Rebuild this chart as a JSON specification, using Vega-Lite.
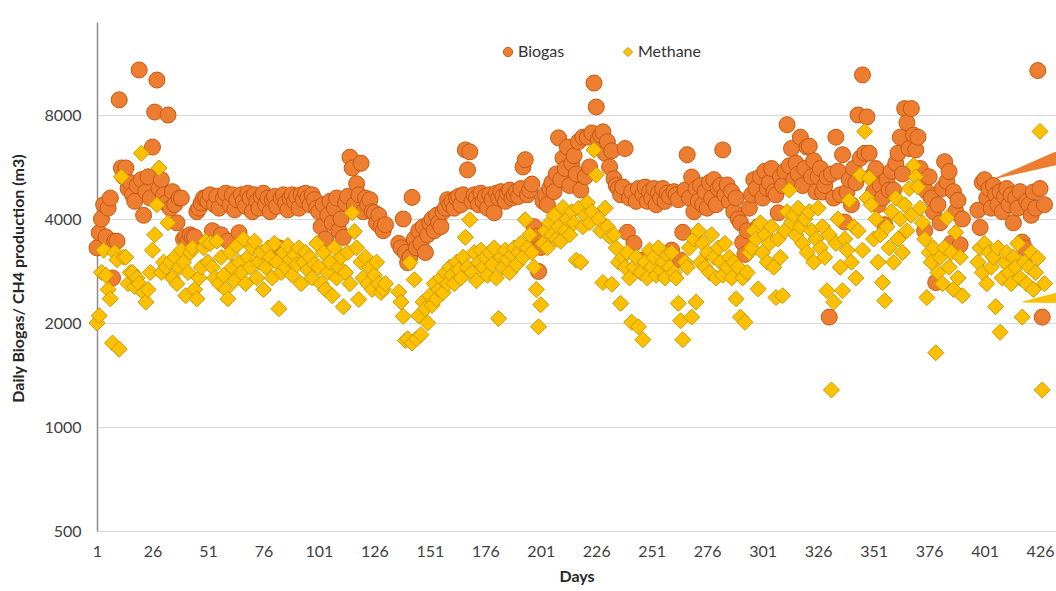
{
"$schema": "https://vega.github.io/schema/vega-lite/v6.json",
"width": 959, "height": 509,
"autosize": {"type": "none"},
"padding": {"left": 97, "top": 22, "right": 0, "bottom": 60},
"background": "white",
"config": {"view": {"stroke": null}, "font": "Lato"},
"encoding": {
  "x": {"field": "day", "type": "quantitative",
        "scale": {"domain": [1, 433.2], "nice": false, "zero": false},
        "axis": {"values": [1,26,51,76,101,126,151,176,201,226,251,276,301,326,351,376,401,426], "format": "d", "title": "Days", "grid": false, "ticks": false, "domainColor": "#d9d9d9", "domainWidth": 1, "labelFontSize": 16, "labelColor": "#404040", "labelPadding": 12, "labelFlush": false, "titleFontSize": 16, "titleFontWeight": "bold", "titleColor": "#262626", "titlePadding": 9}},
  "y": {"field": "m3", "type": "quantitative",
        "scale": {"type": "log", "base": 2, "domain": [500, 14870], "nice": false},
        "axis": {"values": [500,1000,2000,4000,8000], "format": "d", "title": "Daily Biogas/ CH4  production (m3)", "grid": true, "gridColor": "#d9d9d9", "ticks": false, "domainColor": "#8c8c8c", "domainWidth": 1.5, "labelFontSize": 16, "labelColor": "#404040", "labelPadding": 16, "titleFontSize": 16, "titleFontWeight": "bold", "titleColor": "#262626", "titleX": -79, "titleY": 256, "titleBaseline": "middle", "titleAngle": 270}}
},
"layer": [
{"data": {"values": [{}]}, "mark": {"type": "rule", "color": "#8c8c8c", "strokeWidth": 1.5},
 "encoding": {"x": {"datum": 1}, "x2": {"datum": 433.2}, "y": {"datum": 14870}}},
{"data": {"values": [
{"day":1,"gas":"Biogas","m3":3300},{"day":2,"gas":"Biogas","m3":3650},{"day":3,"gas":"Biogas","m3":4000},{"day":4,"gas":"Biogas","m3":4400},{"day":5,"gas":"Biogas","m3":3550},{"day":6,"gas":"Biogas","m3":4300},{"day":7,"gas":"Biogas","m3":4600},{"day":8,"gas":"Biogas","m3":2700},{"day":9,"gas":"Biogas","m3":3450},{"day":10,"gas":"Biogas","m3":3450},
{"day":11,"gas":"Biogas","m3":8850},{"day":12,"gas":"Biogas","m3":5620},{"day":13,"gas":"Biogas","m3":5300},{"day":14,"gas":"Biogas","m3":5620},{"day":15,"gas":"Biogas","m3":4900},{"day":16,"gas":"Biogas","m3":5100},{"day":17,"gas":"Biogas","m3":4700},{"day":18,"gas":"Biogas","m3":4500},{"day":19,"gas":"Biogas","m3":5000},{"day":20,"gas":"Biogas","m3":10800},
{"day":21,"gas":"Biogas","m3":5200},{"day":22,"gas":"Biogas","m3":4100},{"day":23,"gas":"Biogas","m3":4800},{"day":24,"gas":"Biogas","m3":5300},{"day":25,"gas":"Biogas","m3":4600},{"day":26,"gas":"Biogas","m3":6460},{"day":27,"gas":"Biogas","m3":8160},{"day":28,"gas":"Biogas","m3":10100},{"day":29,"gas":"Biogas","m3":4900},{"day":30,"gas":"Biogas","m3":5200},
{"day":31,"gas":"Biogas","m3":4700},{"day":32,"gas":"Biogas","m3":4450},{"day":33,"gas":"Biogas","m3":8000},{"day":34,"gas":"Biogas","m3":4300},{"day":35,"gas":"Biogas","m3":4800},{"day":36,"gas":"Biogas","m3":4400},{"day":37,"gas":"Biogas","m3":3900},{"day":38,"gas":"Biogas","m3":4600},{"day":39,"gas":"Biogas","m3":4600},{"day":40,"gas":"Biogas","m3":3500},
{"day":41,"gas":"Biogas","m3":3550},{"day":42,"gas":"Biogas","m3":3450},{"day":43,"gas":"Biogas","m3":3600},{"day":44,"gas":"Biogas","m3":3550},{"day":45,"gas":"Biogas","m3":3550},{"day":46,"gas":"Biogas","m3":4200},{"day":47,"gas":"Biogas","m3":4300},{"day":48,"gas":"Biogas","m3":4450},{"day":49,"gas":"Biogas","m3":4600},{"day":50,"gas":"Biogas","m3":4600},
{"day":51,"gas":"Biogas","m3":4500},{"day":52,"gas":"Biogas","m3":4700},{"day":53,"gas":"Biogas","m3":3700},{"day":54,"gas":"Biogas","m3":4400},{"day":55,"gas":"Biogas","m3":4650},{"day":56,"gas":"Biogas","m3":4300},{"day":57,"gas":"Biogas","m3":3600},{"day":58,"gas":"Biogas","m3":4600},{"day":59,"gas":"Biogas","m3":4750},{"day":60,"gas":"Biogas","m3":3450},
{"day":61,"gas":"Biogas","m3":4400},{"day":62,"gas":"Biogas","m3":4700},{"day":63,"gas":"Biogas","m3":4250},{"day":64,"gas":"Biogas","m3":4550},{"day":65,"gas":"Biogas","m3":3650},{"day":66,"gas":"Biogas","m3":4700},{"day":67,"gas":"Biogas","m3":4500},{"day":68,"gas":"Biogas","m3":4350},{"day":69,"gas":"Biogas","m3":4750},{"day":70,"gas":"Biogas","m3":4600},
{"day":71,"gas":"Biogas","m3":4200},{"day":72,"gas":"Biogas","m3":4700},{"day":73,"gas":"Biogas","m3":4500},{"day":74,"gas":"Biogas","m3":4300},{"day":75,"gas":"Biogas","m3":4650},{"day":76,"gas":"Biogas","m3":4750},{"day":77,"gas":"Biogas","m3":4400},{"day":78,"gas":"Biogas","m3":4600},{"day":79,"gas":"Biogas","m3":4200},{"day":80,"gas":"Biogas","m3":4550},
{"day":81,"gas":"Biogas","m3":4650},{"day":82,"gas":"Biogas","m3":4350},{"day":83,"gas":"Biogas","m3":3300},{"day":84,"gas":"Biogas","m3":4600},{"day":85,"gas":"Biogas","m3":4700},{"day":86,"gas":"Biogas","m3":4450},{"day":87,"gas":"Biogas","m3":4250},{"day":88,"gas":"Biogas","m3":4600},{"day":89,"gas":"Biogas","m3":4700},{"day":90,"gas":"Biogas","m3":4500},
{"day":91,"gas":"Biogas","m3":4650},{"day":92,"gas":"Biogas","m3":4300},{"day":93,"gas":"Biogas","m3":4700},{"day":94,"gas":"Biogas","m3":4550},{"day":95,"gas":"Biogas","m3":4750},{"day":96,"gas":"Biogas","m3":4600},{"day":97,"gas":"Biogas","m3":4400},{"day":98,"gas":"Biogas","m3":4700},{"day":99,"gas":"Biogas","m3":4550},{"day":100,"gas":"Biogas","m3":4300},
{"day":101,"gas":"Biogas","m3":4200},{"day":102,"gas":"Biogas","m3":3800},{"day":103,"gas":"Biogas","m3":4400},{"day":104,"gas":"Biogas","m3":3500},{"day":105,"gas":"Biogas","m3":4100},{"day":106,"gas":"Biogas","m3":4500},{"day":107,"gas":"Biogas","m3":3900},{"day":108,"gas":"Biogas","m3":4300},{"day":109,"gas":"Biogas","m3":4600},{"day":110,"gas":"Biogas","m3":3700},
{"day":111,"gas":"Biogas","m3":4000},{"day":112,"gas":"Biogas","m3":3540},{"day":113,"gas":"Biogas","m3":4450},{"day":114,"gas":"Biogas","m3":4650},{"day":115,"gas":"Biogas","m3":6040},{"day":116,"gas":"Biogas","m3":5620},{"day":117,"gas":"Biogas","m3":4400},{"day":118,"gas":"Biogas","m3":5060},{"day":119,"gas":"Biogas","m3":4700},{"day":120,"gas":"Biogas","m3":5800},
{"day":121,"gas":"Biogas","m3":4200},{"day":122,"gas":"Biogas","m3":4600},{"day":123,"gas":"Biogas","m3":4400},{"day":124,"gas":"Biogas","m3":4550},{"day":125,"gas":"Biogas","m3":4200},{"day":126,"gas":"Biogas","m3":4170},{"day":127,"gas":"Biogas","m3":3900},{"day":128,"gas":"Biogas","m3":4100},{"day":129,"gas":"Biogas","m3":3800},{"day":130,"gas":"Biogas","m3":3700},
{"day":131,"gas":"Biogas","m3":3850},
{"day":137,"gas":"Biogas","m3":3400},{"day":138,"gas":"Biogas","m3":3300},{"day":139,"gas":"Biogas","m3":4000},{"day":140,"gas":"Biogas","m3":3200},
{"day":141,"gas":"Biogas","m3":2990},{"day":142,"gas":"Biogas","m3":3100},{"day":143,"gas":"Biogas","m3":4620},{"day":144,"gas":"Biogas","m3":3500},{"day":145,"gas":"Biogas","m3":3300},{"day":146,"gas":"Biogas","m3":3700},{"day":147,"gas":"Biogas","m3":3400},{"day":148,"gas":"Biogas","m3":3800},{"day":149,"gas":"Biogas","m3":3200},{"day":150,"gas":"Biogas","m3":3600},
{"day":151,"gas":"Biogas","m3":3900},{"day":152,"gas":"Biogas","m3":4000},{"day":153,"gas":"Biogas","m3":3700},{"day":154,"gas":"Biogas","m3":4100},{"day":155,"gas":"Biogas","m3":3900},{"day":156,"gas":"Biogas","m3":3800},{"day":157,"gas":"Biogas","m3":4200},{"day":158,"gas":"Biogas","m3":4300},{"day":159,"gas":"Biogas","m3":4550},{"day":160,"gas":"Biogas","m3":4400},
{"day":161,"gas":"Biogas","m3":4500},{"day":162,"gas":"Biogas","m3":4300},{"day":163,"gas":"Biogas","m3":4600},{"day":164,"gas":"Biogas","m3":4650},{"day":165,"gas":"Biogas","m3":4400},{"day":166,"gas":"Biogas","m3":4700},{"day":167,"gas":"Biogas","m3":6340},{"day":168,"gas":"Biogas","m3":5550},{"day":169,"gas":"Biogas","m3":6260},{"day":170,"gas":"Biogas","m3":4500},
{"day":171,"gas":"Biogas","m3":4700},{"day":172,"gas":"Biogas","m3":4600},{"day":173,"gas":"Biogas","m3":4400},{"day":174,"gas":"Biogas","m3":4750},{"day":175,"gas":"Biogas","m3":4500},{"day":176,"gas":"Biogas","m3":4650},{"day":177,"gas":"Biogas","m3":4300},{"day":178,"gas":"Biogas","m3":4700},{"day":179,"gas":"Biogas","m3":4550},{"day":180,"gas":"Biogas","m3":4170},
{"day":181,"gas":"Biogas","m3":4750},{"day":182,"gas":"Biogas","m3":4600},{"day":183,"gas":"Biogas","m3":4800},{"day":184,"gas":"Biogas","m3":4650},{"day":185,"gas":"Biogas","m3":4500},{"day":186,"gas":"Biogas","m3":4750},{"day":187,"gas":"Biogas","m3":4850},{"day":188,"gas":"Biogas","m3":4600},{"day":189,"gas":"Biogas","m3":4700},{"day":190,"gas":"Biogas","m3":4800},
{"day":191,"gas":"Biogas","m3":4650},{"day":192,"gas":"Biogas","m3":4900},{"day":193,"gas":"Biogas","m3":5660},{"day":194,"gas":"Biogas","m3":5940},{"day":195,"gas":"Biogas","m3":4700},{"day":196,"gas":"Biogas","m3":4850},{"day":197,"gas":"Biogas","m3":5050},{"day":198,"gas":"Biogas","m3":3800},{"day":199,"gas":"Biogas","m3":3560},{"day":200,"gas":"Biogas","m3":2820},
{"day":201,"gas":"Biogas","m3":3310},{"day":202,"gas":"Biogas","m3":4500},{"day":203,"gas":"Biogas","m3":4700},{"day":204,"gas":"Biogas","m3":4400},{"day":205,"gas":"Biogas","m3":4900},{"day":206,"gas":"Biogas","m3":5100},{"day":207,"gas":"Biogas","m3":4800},{"day":208,"gas":"Biogas","m3":5400},{"day":209,"gas":"Biogas","m3":6870},{"day":210,"gas":"Biogas","m3":5200},
{"day":211,"gas":"Biogas","m3":6000},{"day":212,"gas":"Biogas","m3":5600},{"day":213,"gas":"Biogas","m3":6460},{"day":214,"gas":"Biogas","m3":5000},{"day":215,"gas":"Biogas","m3":5800},{"day":216,"gas":"Biogas","m3":6100},{"day":217,"gas":"Biogas","m3":5400},{"day":218,"gas":"Biogas","m3":6700},{"day":219,"gas":"Biogas","m3":4850},{"day":220,"gas":"Biogas","m3":6900},
{"day":221,"gas":"Biogas","m3":5300},{"day":222,"gas":"Biogas","m3":6900},{"day":223,"gas":"Biogas","m3":5660},{"day":224,"gas":"Biogas","m3":7100},{"day":225,"gas":"Biogas","m3":9900},{"day":226,"gas":"Biogas","m3":8440},{"day":227,"gas":"Biogas","m3":6800},{"day":228,"gas":"Biogas","m3":7000},{"day":229,"gas":"Biogas","m3":7150},{"day":230,"gas":"Biogas","m3":6200},
{"day":231,"gas":"Biogas","m3":6700},{"day":232,"gas":"Biogas","m3":5660},{"day":233,"gas":"Biogas","m3":6300},{"day":234,"gas":"Biogas","m3":5230},{"day":235,"gas":"Biogas","m3":5000},{"day":236,"gas":"Biogas","m3":4900},{"day":237,"gas":"Biogas","m3":4700},{"day":238,"gas":"Biogas","m3":4950},{"day":239,"gas":"Biogas","m3":6400},{"day":240,"gas":"Biogas","m3":3660},
{"day":241,"gas":"Biogas","m3":4600},{"day":242,"gas":"Biogas","m3":4800},{"day":243,"gas":"Biogas","m3":3400},{"day":244,"gas":"Biogas","m3":4500},{"day":245,"gas":"Biogas","m3":4900},{"day":246,"gas":"Biogas","m3":3040},{"day":247,"gas":"Biogas","m3":4700},{"day":248,"gas":"Biogas","m3":4950},{"day":249,"gas":"Biogas","m3":4500},{"day":250,"gas":"Biogas","m3":4800},
{"day":251,"gas":"Biogas","m3":4600},{"day":252,"gas":"Biogas","m3":4900},{"day":253,"gas":"Biogas","m3":4400},{"day":254,"gas":"Biogas","m3":4750},{"day":255,"gas":"Biogas","m3":4600},{"day":256,"gas":"Biogas","m3":4900},{"day":257,"gas":"Biogas","m3":4500},{"day":258,"gas":"Biogas","m3":4750},{"day":259,"gas":"Biogas","m3":4650},{"day":260,"gas":"Biogas","m3":3250},
{"day":261,"gas":"Biogas","m3":4800},{"day":262,"gas":"Biogas","m3":4700},{"day":263,"gas":"Biogas","m3":4550},{"day":264,"gas":"Biogas","m3":3040},{"day":265,"gas":"Biogas","m3":3660},{"day":266,"gas":"Biogas","m3":4850},{"day":267,"gas":"Biogas","m3":6140},{"day":268,"gas":"Biogas","m3":4600},{"day":269,"gas":"Biogas","m3":5290},{"day":270,"gas":"Biogas","m3":4200},
{"day":271,"gas":"Biogas","m3":4900},{"day":272,"gas":"Biogas","m3":4500},{"day":273,"gas":"Biogas","m3":5000},{"day":274,"gas":"Biogas","m3":4400},{"day":275,"gas":"Biogas","m3":4800},{"day":276,"gas":"Biogas","m3":4300},{"day":277,"gas":"Biogas","m3":5100},{"day":278,"gas":"Biogas","m3":4600},{"day":279,"gas":"Biogas","m3":5200},{"day":280,"gas":"Biogas","m3":4400},
{"day":281,"gas":"Biogas","m3":4900},{"day":282,"gas":"Biogas","m3":5000},{"day":283,"gas":"Biogas","m3":6340},{"day":284,"gas":"Biogas","m3":4700},{"day":285,"gas":"Biogas","m3":5020},{"day":286,"gas":"Biogas","m3":4500},{"day":287,"gas":"Biogas","m3":4800},{"day":288,"gas":"Biogas","m3":4200},{"day":289,"gas":"Biogas","m3":4600},{"day":290,"gas":"Biogas","m3":4000},
{"day":291,"gas":"Biogas","m3":3900},{"day":292,"gas":"Biogas","m3":3420},{"day":293,"gas":"Biogas","m3":3160},{"day":294,"gas":"Biogas","m3":3700},{"day":295,"gas":"Biogas","m3":4300},{"day":296,"gas":"Biogas","m3":4700},{"day":297,"gas":"Biogas","m3":5200},{"day":298,"gas":"Biogas","m3":4900},{"day":299,"gas":"Biogas","m3":3800},{"day":300,"gas":"Biogas","m3":5300},
{"day":301,"gas":"Biogas","m3":4600},{"day":302,"gas":"Biogas","m3":5500},{"day":303,"gas":"Biogas","m3":4900},{"day":304,"gas":"Biogas","m3":5100},{"day":305,"gas":"Biogas","m3":5600},{"day":306,"gas":"Biogas","m3":4800},{"day":307,"gas":"Biogas","m3":4700},{"day":308,"gas":"Biogas","m3":4170},{"day":309,"gas":"Biogas","m3":5300},{"day":310,"gas":"Biogas","m3":5000},
{"day":311,"gas":"Biogas","m3":5500},{"day":312,"gas":"Biogas","m3":7500},{"day":313,"gas":"Biogas","m3":5700},{"day":314,"gas":"Biogas","m3":6400},{"day":315,"gas":"Biogas","m3":5200},{"day":316,"gas":"Biogas","m3":5800},{"day":317,"gas":"Biogas","m3":5400},{"day":318,"gas":"Biogas","m3":6900},{"day":319,"gas":"Biogas","m3":5000},{"day":320,"gas":"Biogas","m3":5600},
{"day":321,"gas":"Biogas","m3":6460},{"day":322,"gas":"Biogas","m3":6500},{"day":323,"gas":"Biogas","m3":5300},{"day":324,"gas":"Biogas","m3":5900},{"day":325,"gas":"Biogas","m3":4800},{"day":326,"gas":"Biogas","m3":5300},{"day":327,"gas":"Biogas","m3":5600},{"day":328,"gas":"Biogas","m3":4790},{"day":329,"gas":"Biogas","m3":5000},{"day":330,"gas":"Biogas","m3":5290},
{"day":331,"gas":"Biogas","m3":2080},{"day":332,"gas":"Biogas","m3":5400},{"day":333,"gas":"Biogas","m3":4600},{"day":334,"gas":"Biogas","m3":6900},{"day":335,"gas":"Biogas","m3":5500},{"day":336,"gas":"Biogas","m3":4700},{"day":337,"gas":"Biogas","m3":6140},{"day":338,"gas":"Biogas","m3":3920},{"day":339,"gas":"Biogas","m3":4790},{"day":340,"gas":"Biogas","m3":5200},
{"day":341,"gas":"Biogas","m3":4400},{"day":342,"gas":"Biogas","m3":5600},{"day":343,"gas":"Biogas","m3":5100},{"day":344,"gas":"Biogas","m3":8000},{"day":345,"gas":"Biogas","m3":6000},{"day":346,"gas":"Biogas","m3":10450},{"day":347,"gas":"Biogas","m3":6200},{"day":348,"gas":"Biogas","m3":7900},{"day":349,"gas":"Biogas","m3":6200},{"day":350,"gas":"Biogas","m3":5300},
{"day":351,"gas":"Biogas","m3":4800},{"day":352,"gas":"Biogas","m3":5600},{"day":353,"gas":"Biogas","m3":4400},{"day":354,"gas":"Biogas","m3":5000},{"day":355,"gas":"Biogas","m3":4600},{"day":356,"gas":"Biogas","m3":3850},{"day":357,"gas":"Biogas","m3":5200},{"day":358,"gas":"Biogas","m3":4850},{"day":359,"gas":"Biogas","m3":5500},{"day":360,"gas":"Biogas","m3":4850},
{"day":361,"gas":"Biogas","m3":5800},{"day":362,"gas":"Biogas","m3":6200},{"day":363,"gas":"Biogas","m3":6900},{"day":364,"gas":"Biogas","m3":5400},{"day":365,"gas":"Biogas","m3":8350},{"day":366,"gas":"Biogas","m3":7600},{"day":367,"gas":"Biogas","m3":6400},{"day":368,"gas":"Biogas","m3":8350},{"day":369,"gas":"Biogas","m3":7000},{"day":370,"gas":"Biogas","m3":6340},
{"day":371,"gas":"Biogas","m3":6900},{"day":372,"gas":"Biogas","m3":5600},{"day":373,"gas":"Biogas","m3":5100},{"day":374,"gas":"Biogas","m3":3700},{"day":375,"gas":"Biogas","m3":4800},{"day":376,"gas":"Biogas","m3":5300},{"day":377,"gas":"Biogas","m3":4600},{"day":378,"gas":"Biogas","m3":4200},{"day":379,"gas":"Biogas","m3":2620},{"day":380,"gas":"Biogas","m3":4400},
{"day":381,"gas":"Biogas","m3":3900},{"day":382,"gas":"Biogas","m3":4900},{"day":383,"gas":"Biogas","m3":5860},{"day":384,"gas":"Biogas","m3":5130},{"day":385,"gas":"Biogas","m3":5490},{"day":386,"gas":"Biogas","m3":3400},{"day":387,"gas":"Biogas","m3":4800},{"day":388,"gas":"Biogas","m3":4200},{"day":389,"gas":"Biogas","m3":4530},{"day":390,"gas":"Biogas","m3":3370},
{"day":391,"gas":"Biogas","m3":4000},
{"day":398,"gas":"Biogas","m3":4240},{"day":399,"gas":"Biogas","m3":3780},{"day":400,"gas":"Biogas","m3":5100},
{"day":401,"gas":"Biogas","m3":5200},{"day":402,"gas":"Biogas","m3":4600},{"day":403,"gas":"Biogas","m3":4900},{"day":404,"gas":"Biogas","m3":4300},{"day":405,"gas":"Biogas","m3":5000},{"day":406,"gas":"Biogas","m3":4700},{"day":407,"gas":"Biogas","m3":4400},{"day":408,"gas":"Biogas","m3":4800},{"day":409,"gas":"Biogas","m3":4200},{"day":410,"gas":"Biogas","m3":4650},
{"day":411,"gas":"Biogas","m3":4900},{"day":412,"gas":"Biogas","m3":4400},{"day":413,"gas":"Biogas","m3":4700},{"day":414,"gas":"Biogas","m3":3900},{"day":415,"gas":"Biogas","m3":4600},{"day":416,"gas":"Biogas","m3":4300},{"day":417,"gas":"Biogas","m3":4800},{"day":418,"gas":"Biogas","m3":3430},{"day":419,"gas":"Biogas","m3":3300},{"day":420,"gas":"Biogas","m3":4500},
{"day":421,"gas":"Biogas","m3":4400},{"day":422,"gas":"Biogas","m3":4100},{"day":423,"gas":"Biogas","m3":4790},{"day":424,"gas":"Biogas","m3":4300},{"day":425,"gas":"Biogas","m3":10760},{"day":426,"gas":"Biogas","m3":4900},{"day":427,"gas":"Biogas","m3":2080},{"day":428,"gas":"Biogas","m3":4400},
{"day":1,"gas":"Methane","m3":2000},{"day":2,"gas":"Methane","m3":2100},{"day":3,"gas":"Methane","m3":2800},{"day":4,"gas":"Methane","m3":3250},{"day":5,"gas":"Methane","m3":2750},{"day":6,"gas":"Methane","m3":2500},{"day":7,"gas":"Methane","m3":2350},{"day":8,"gas":"Methane","m3":1750},{"day":9,"gas":"Methane","m3":3200},{"day":10,"gas":"Methane","m3":3050},
{"day":11,"gas":"Methane","m3":1680},{"day":12,"gas":"Methane","m3":5300},{"day":13,"gas":"Methane","m3":3100},{"day":14,"gas":"Methane","m3":3100},{"day":15,"gas":"Methane","m3":2600},{"day":16,"gas":"Methane","m3":2800},{"day":17,"gas":"Methane","m3":2800},{"day":18,"gas":"Methane","m3":2550},{"day":19,"gas":"Methane","m3":2700},{"day":20,"gas":"Methane","m3":2600},
{"day":21,"gas":"Methane","m3":6200},{"day":22,"gas":"Methane","m3":2450},{"day":23,"gas":"Methane","m3":2300},{"day":24,"gas":"Methane","m3":2500},{"day":25,"gas":"Methane","m3":2800},{"day":26,"gas":"Methane","m3":3250},{"day":27,"gas":"Methane","m3":3600},{"day":28,"gas":"Methane","m3":4400},{"day":29,"gas":"Methane","m3":5620},{"day":30,"gas":"Methane","m3":2800},
{"day":31,"gas":"Methane","m3":3000},{"day":32,"gas":"Methane","m3":2900},{"day":33,"gas":"Methane","m3":3900},{"day":34,"gas":"Methane","m3":3000},{"day":35,"gas":"Methane","m3":2700},{"day":36,"gas":"Methane","m3":3100},{"day":37,"gas":"Methane","m3":2600},{"day":38,"gas":"Methane","m3":2900},{"day":39,"gas":"Methane","m3":3250},{"day":40,"gas":"Methane","m3":3000},
{"day":41,"gas":"Methane","m3":2400},{"day":42,"gas":"Methane","m3":2800},{"day":43,"gas":"Methane","m3":3200},{"day":44,"gas":"Methane","m3":3300},{"day":45,"gas":"Methane","m3":2500},{"day":46,"gas":"Methane","m3":2350},{"day":47,"gas":"Methane","m3":2700},{"day":48,"gas":"Methane","m3":2900},{"day":49,"gas":"Methane","m3":3300},{"day":50,"gas":"Methane","m3":3450},
{"day":51,"gas":"Methane","m3":3000},{"day":52,"gas":"Methane","m3":3400},{"day":53,"gas":"Methane","m3":2900},{"day":54,"gas":"Methane","m3":2700},{"day":55,"gas":"Methane","m3":3450},{"day":56,"gas":"Methane","m3":2600},{"day":57,"gas":"Methane","m3":3100},{"day":58,"gas":"Methane","m3":2750},{"day":59,"gas":"Methane","m3":2500},{"day":60,"gas":"Methane","m3":2350},
{"day":61,"gas":"Methane","m3":3200},{"day":62,"gas":"Methane","m3":2900},{"day":63,"gas":"Methane","m3":2650},{"day":64,"gas":"Methane","m3":3350},{"day":65,"gas":"Methane","m3":3000},{"day":66,"gas":"Methane","m3":2800},{"day":67,"gas":"Methane","m3":3500},{"day":68,"gas":"Methane","m3":2600},{"day":69,"gas":"Methane","m3":3100},{"day":70,"gas":"Methane","m3":2900},
{"day":71,"gas":"Methane","m3":3300},{"day":72,"gas":"Methane","m3":3450},{"day":73,"gas":"Methane","m3":2700},{"day":74,"gas":"Methane","m3":3000},{"day":75,"gas":"Methane","m3":3200},{"day":76,"gas":"Methane","m3":2500},{"day":77,"gas":"Methane","m3":2900},{"day":78,"gas":"Methane","m3":3300},{"day":79,"gas":"Methane","m3":3100},{"day":80,"gas":"Methane","m3":2700},
{"day":81,"gas":"Methane","m3":3400},{"day":82,"gas":"Methane","m3":3000},{"day":83,"gas":"Methane","m3":2200},{"day":84,"gas":"Methane","m3":2800},{"day":85,"gas":"Methane","m3":3200},{"day":86,"gas":"Methane","m3":2900},{"day":87,"gas":"Methane","m3":3350},{"day":88,"gas":"Methane","m3":3050},{"day":89,"gas":"Methane","m3":2750},{"day":90,"gas":"Methane","m3":3150},
{"day":91,"gas":"Methane","m3":2950},{"day":92,"gas":"Methane","m3":3300},{"day":93,"gas":"Methane","m3":2600},{"day":94,"gas":"Methane","m3":3000},{"day":95,"gas":"Methane","m3":3200},{"day":96,"gas":"Methane","m3":2850},{"day":97,"gas":"Methane","m3":3100},{"day":98,"gas":"Methane","m3":2700},{"day":99,"gas":"Methane","m3":2950},{"day":100,"gas":"Methane","m3":3400},
{"day":101,"gas":"Methane","m3":2900},{"day":102,"gas":"Methane","m3":2600},{"day":103,"gas":"Methane","m3":3200},{"day":104,"gas":"Methane","m3":2500},{"day":105,"gas":"Methane","m3":2800},{"day":106,"gas":"Methane","m3":3000},{"day":107,"gas":"Methane","m3":2400},{"day":108,"gas":"Methane","m3":3300},{"day":109,"gas":"Methane","m3":2700},{"day":110,"gas":"Methane","m3":2900},
{"day":111,"gas":"Methane","m3":3100},{"day":112,"gas":"Methane","m3":2230},{"day":113,"gas":"Methane","m3":2800},{"day":114,"gas":"Methane","m3":3200},{"day":115,"gas":"Methane","m3":2600},{"day":116,"gas":"Methane","m3":4170},{"day":117,"gas":"Methane","m3":3680},{"day":118,"gas":"Methane","m3":3300},{"day":119,"gas":"Methane","m3":2340},{"day":120,"gas":"Methane","m3":3000},
{"day":121,"gas":"Methane","m3":2700},{"day":122,"gas":"Methane","m3":3100},{"day":123,"gas":"Methane","m3":2600},{"day":124,"gas":"Methane","m3":2900},{"day":125,"gas":"Methane","m3":2500},{"day":126,"gas":"Methane","m3":2750},{"day":127,"gas":"Methane","m3":3000},{"day":128,"gas":"Methane","m3":2600},{"day":129,"gas":"Methane","m3":2450},{"day":130,"gas":"Methane","m3":2500},
{"day":131,"gas":"Methane","m3":2600},
{"day":137,"gas":"Methane","m3":2460},{"day":138,"gas":"Methane","m3":2300},{"day":139,"gas":"Methane","m3":2090},{"day":140,"gas":"Methane","m3":1780},
{"day":141,"gas":"Methane","m3":1800},{"day":142,"gas":"Methane","m3":2990},{"day":143,"gas":"Methane","m3":1750},{"day":144,"gas":"Methane","m3":2670},{"day":145,"gas":"Methane","m3":1800},{"day":146,"gas":"Methane","m3":2100},{"day":147,"gas":"Methane","m3":1850},{"day":148,"gas":"Methane","m3":2300},{"day":149,"gas":"Methane","m3":2200},{"day":150,"gas":"Methane","m3":2000},
{"day":151,"gas":"Methane","m3":2400},{"day":152,"gas":"Methane","m3":2250},{"day":153,"gas":"Methane","m3":2600},{"day":154,"gas":"Methane","m3":2350},{"day":155,"gas":"Methane","m3":2500},{"day":156,"gas":"Methane","m3":2700},{"day":157,"gas":"Methane","m3":2450},{"day":158,"gas":"Methane","m3":2800},{"day":159,"gas":"Methane","m3":2600},{"day":160,"gas":"Methane","m3":2900},
{"day":161,"gas":"Methane","m3":2750},{"day":162,"gas":"Methane","m3":2600},{"day":163,"gas":"Methane","m3":3000},{"day":164,"gas":"Methane","m3":2850},{"day":165,"gas":"Methane","m3":2700},{"day":166,"gas":"Methane","m3":3100},{"day":167,"gas":"Methane","m3":3540},{"day":168,"gas":"Methane","m3":2900},{"day":169,"gas":"Methane","m3":3980},{"day":170,"gas":"Methane","m3":2800},
{"day":171,"gas":"Methane","m3":3200},{"day":172,"gas":"Methane","m3":2650},{"day":173,"gas":"Methane","m3":3000},{"day":174,"gas":"Methane","m3":3250},{"day":175,"gas":"Methane","m3":2900},{"day":176,"gas":"Methane","m3":3100},{"day":177,"gas":"Methane","m3":2750},{"day":178,"gas":"Methane","m3":3200},{"day":179,"gas":"Methane","m3":2950},{"day":180,"gas":"Methane","m3":3300},
{"day":181,"gas":"Methane","m3":2700},{"day":182,"gas":"Methane","m3":2060},{"day":183,"gas":"Methane","m3":3100},{"day":184,"gas":"Methane","m3":2900},{"day":185,"gas":"Methane","m3":3250},{"day":186,"gas":"Methane","m3":3050},{"day":187,"gas":"Methane","m3":2800},{"day":188,"gas":"Methane","m3":3150},{"day":189,"gas":"Methane","m3":3300},{"day":190,"gas":"Methane","m3":2950},
{"day":191,"gas":"Methane","m3":3200},{"day":192,"gas":"Methane","m3":3400},{"day":193,"gas":"Methane","m3":3100},{"day":194,"gas":"Methane","m3":3980},{"day":195,"gas":"Methane","m3":3300},{"day":196,"gas":"Methane","m3":3600},{"day":197,"gas":"Methane","m3":3200},{"day":198,"gas":"Methane","m3":2900},{"day":199,"gas":"Methane","m3":2500},{"day":200,"gas":"Methane","m3":1950},
{"day":201,"gas":"Methane","m3":2260},{"day":202,"gas":"Methane","m3":3400},{"day":203,"gas":"Methane","m3":3700},{"day":204,"gas":"Methane","m3":3300},{"day":205,"gas":"Methane","m3":3900},{"day":206,"gas":"Methane","m3":3600},{"day":207,"gas":"Methane","m3":4100},{"day":208,"gas":"Methane","m3":3500},{"day":209,"gas":"Methane","m3":3800},{"day":210,"gas":"Methane","m3":3450},
{"day":211,"gas":"Methane","m3":4320},{"day":212,"gas":"Methane","m3":3700},{"day":213,"gas":"Methane","m3":4000},{"day":214,"gas":"Methane","m3":3600},{"day":215,"gas":"Methane","m3":4200},{"day":216,"gas":"Methane","m3":3900},{"day":217,"gas":"Methane","m3":3040},{"day":218,"gas":"Methane","m3":4300},{"day":219,"gas":"Methane","m3":3000},{"day":220,"gas":"Methane","m3":3800},
{"day":221,"gas":"Methane","m3":4100},{"day":222,"gas":"Methane","m3":4460},{"day":223,"gas":"Methane","m3":3900},{"day":224,"gas":"Methane","m3":4200},{"day":225,"gas":"Methane","m3":6340},{"day":226,"gas":"Methane","m3":5360},{"day":227,"gas":"Methane","m3":4000},{"day":228,"gas":"Methane","m3":3700},{"day":229,"gas":"Methane","m3":2620},{"day":230,"gas":"Methane","m3":4300},
{"day":231,"gas":"Methane","m3":3800},{"day":232,"gas":"Methane","m3":3560},{"day":233,"gas":"Methane","m3":2590},{"day":234,"gas":"Methane","m3":3600},{"day":235,"gas":"Methane","m3":3300},{"day":236,"gas":"Methane","m3":3000},{"day":237,"gas":"Methane","m3":2280},{"day":238,"gas":"Methane","m3":3100},{"day":239,"gas":"Methane","m3":2900},{"day":240,"gas":"Methane","m3":3200},
{"day":241,"gas":"Methane","m3":2700},{"day":242,"gas":"Methane","m3":2010},{"day":243,"gas":"Methane","m3":2900},{"day":244,"gas":"Methane","m3":3100},{"day":245,"gas":"Methane","m3":1950},{"day":246,"gas":"Methane","m3":2800},{"day":247,"gas":"Methane","m3":1790},{"day":248,"gas":"Methane","m3":3000},{"day":249,"gas":"Methane","m3":2700},{"day":250,"gas":"Methane","m3":3250},
{"day":251,"gas":"Methane","m3":2900},{"day":252,"gas":"Methane","m3":3100},{"day":253,"gas":"Methane","m3":2750},{"day":254,"gas":"Methane","m3":3300},{"day":255,"gas":"Methane","m3":2850},{"day":256,"gas":"Methane","m3":3000},{"day":257,"gas":"Methane","m3":2700},{"day":258,"gas":"Methane","m3":3150},{"day":259,"gas":"Methane","m3":2900},{"day":260,"gas":"Methane","m3":3200},
{"day":261,"gas":"Methane","m3":2800},{"day":262,"gas":"Methane","m3":2700},{"day":263,"gas":"Methane","m3":2280},{"day":264,"gas":"Methane","m3":2030},{"day":265,"gas":"Methane","m3":1790},{"day":266,"gas":"Methane","m3":3000},{"day":267,"gas":"Methane","m3":2900},{"day":268,"gas":"Methane","m3":3300},{"day":269,"gas":"Methane","m3":2080},{"day":270,"gas":"Methane","m3":3500},
{"day":271,"gas":"Methane","m3":2300},{"day":272,"gas":"Methane","m3":3700},{"day":273,"gas":"Methane","m3":3000},{"day":274,"gas":"Methane","m3":3400},{"day":275,"gas":"Methane","m3":2900},{"day":276,"gas":"Methane","m3":3200},{"day":277,"gas":"Methane","m3":2800},{"day":278,"gas":"Methane","m3":3600},{"day":279,"gas":"Methane","m3":3100},{"day":280,"gas":"Methane","m3":2700},
{"day":281,"gas":"Methane","m3":3300},{"day":282,"gas":"Methane","m3":3000},{"day":283,"gas":"Methane","m3":2750},{"day":284,"gas":"Methane","m3":3400},{"day":285,"gas":"Methane","m3":2900},{"day":286,"gas":"Methane","m3":3100},{"day":287,"gas":"Methane","m3":2700},{"day":288,"gas":"Methane","m3":3000},{"day":289,"gas":"Methane","m3":2350},{"day":290,"gas":"Methane","m3":2900},
{"day":291,"gas":"Methane","m3":2080},{"day":292,"gas":"Methane","m3":2700},{"day":293,"gas":"Methane","m3":2010},{"day":294,"gas":"Methane","m3":2800},{"day":295,"gas":"Methane","m3":3200},{"day":296,"gas":"Methane","m3":3300},{"day":297,"gas":"Methane","m3":3700},{"day":298,"gas":"Methane","m3":3500},{"day":299,"gas":"Methane","m3":2510},{"day":300,"gas":"Methane","m3":3900},
{"day":301,"gas":"Methane","m3":3200},{"day":302,"gas":"Methane","m3":3600},{"day":303,"gas":"Methane","m3":3000},{"day":304,"gas":"Methane","m3":3400},{"day":305,"gas":"Methane","m3":3800},{"day":306,"gas":"Methane","m3":2900},{"day":307,"gas":"Methane","m3":2370},{"day":308,"gas":"Methane","m3":3500},{"day":309,"gas":"Methane","m3":3100},{"day":310,"gas":"Methane","m3":2400},
{"day":311,"gas":"Methane","m3":3700},{"day":312,"gas":"Methane","m3":4200},{"day":313,"gas":"Methane","m3":4850},{"day":314,"gas":"Methane","m3":3900},{"day":315,"gas":"Methane","m3":4100},{"day":316,"gas":"Methane","m3":3600},{"day":317,"gas":"Methane","m3":4300},{"day":318,"gas":"Methane","m3":3800},{"day":319,"gas":"Methane","m3":3400},{"day":320,"gas":"Methane","m3":4000},
{"day":321,"gas":"Methane","m3":3200},{"day":322,"gas":"Methane","m3":4200},{"day":323,"gas":"Methane","m3":3700},{"day":324,"gas":"Methane","m3":3000},{"day":325,"gas":"Methane","m3":3500},{"day":326,"gas":"Methane","m3":4300},{"day":327,"gas":"Methane","m3":3300},{"day":328,"gas":"Methane","m3":3800},{"day":329,"gas":"Methane","m3":3100},{"day":330,"gas":"Methane","m3":2480},
{"day":331,"gas":"Methane","m3":3600},{"day":332,"gas":"Methane","m3":1280},{"day":333,"gas":"Methane","m3":2300},{"day":334,"gas":"Methane","m3":3400},{"day":335,"gas":"Methane","m3":4000},{"day":336,"gas":"Methane","m3":2900},{"day":337,"gas":"Methane","m3":2480},{"day":338,"gas":"Methane","m3":3500},{"day":339,"gas":"Methane","m3":3250},{"day":340,"gas":"Methane","m3":4530},
{"day":341,"gas":"Methane","m3":3000},{"day":342,"gas":"Methane","m3":3800},{"day":343,"gas":"Methane","m3":2700},{"day":344,"gas":"Methane","m3":3700},{"day":345,"gas":"Methane","m3":5360},{"day":346,"gas":"Methane","m3":3250},{"day":347,"gas":"Methane","m3":7170},{"day":348,"gas":"Methane","m3":4600},{"day":349,"gas":"Methane","m3":5260},{"day":350,"gas":"Methane","m3":4400},
{"day":351,"gas":"Methane","m3":3500},{"day":352,"gas":"Methane","m3":4000},{"day":353,"gas":"Methane","m3":3000},{"day":354,"gas":"Methane","m3":3600},{"day":355,"gas":"Methane","m3":2620},{"day":356,"gas":"Methane","m3":2320},{"day":357,"gas":"Methane","m3":3800},{"day":358,"gas":"Methane","m3":3300},{"day":359,"gas":"Methane","m3":4200},{"day":360,"gas":"Methane","m3":3000},
{"day":361,"gas":"Methane","m3":4600},{"day":362,"gas":"Methane","m3":3500},{"day":363,"gas":"Methane","m3":4000},{"day":364,"gas":"Methane","m3":3200},{"day":365,"gas":"Methane","m3":4400},{"day":366,"gas":"Methane","m3":3700},{"day":367,"gas":"Methane","m3":4900},{"day":368,"gas":"Methane","m3":4100},{"day":369,"gas":"Methane","m3":5710},{"day":370,"gas":"Methane","m3":5300},
{"day":371,"gas":"Methane","m3":4950},{"day":372,"gas":"Methane","m3":4300},{"day":373,"gas":"Methane","m3":3900},{"day":374,"gas":"Methane","m3":3500},{"day":375,"gas":"Methane","m3":2370},{"day":376,"gas":"Methane","m3":3200},{"day":377,"gas":"Methane","m3":3000},{"day":378,"gas":"Methane","m3":3300},{"day":379,"gas":"Methane","m3":1640},{"day":380,"gas":"Methane","m3":2800},
{"day":381,"gas":"Methane","m3":3100},{"day":382,"gas":"Methane","m3":2600},{"day":383,"gas":"Methane","m3":3300},{"day":384,"gas":"Methane","m3":4030},{"day":385,"gas":"Methane","m3":2900},{"day":386,"gas":"Methane","m3":3200},{"day":387,"gas":"Methane","m3":2500},{"day":388,"gas":"Methane","m3":3660},{"day":389,"gas":"Methane","m3":2700},{"day":390,"gas":"Methane","m3":3100},
{"day":391,"gas":"Methane","m3":2400},
{"day":398,"gas":"Methane","m3":3000},{"day":399,"gas":"Methane","m3":3300},{"day":400,"gas":"Methane","m3":2800},
{"day":401,"gas":"Methane","m3":3400},{"day":402,"gas":"Methane","m3":2600},{"day":403,"gas":"Methane","m3":3200},{"day":404,"gas":"Methane","m3":2900},{"day":405,"gas":"Methane","m3":3100},{"day":406,"gas":"Methane","m3":2230},{"day":407,"gas":"Methane","m3":3300},{"day":408,"gas":"Methane","m3":1880},{"day":409,"gas":"Methane","m3":2700},{"day":410,"gas":"Methane","m3":3000},
{"day":411,"gas":"Methane","m3":3200},{"day":412,"gas":"Methane","m3":2800},{"day":413,"gas":"Methane","m3":2600},{"day":414,"gas":"Methane","m3":3100},{"day":415,"gas":"Methane","m3":2900},{"day":416,"gas":"Methane","m3":3400},{"day":417,"gas":"Methane","m3":2700},{"day":418,"gas":"Methane","m3":2080},{"day":419,"gas":"Methane","m3":3000},{"day":420,"gas":"Methane","m3":2600},
{"day":421,"gas":"Methane","m3":2900},{"day":422,"gas":"Methane","m3":3200},{"day":423,"gas":"Methane","m3":2500},{"day":424,"gas":"Methane","m3":2800},{"day":425,"gas":"Methane","m3":3080},{"day":426,"gas":"Methane","m3":7170},{"day":427,"gas":"Methane","m3":1280},{"day":428,"gas":"Methane","m3":2600}
]},
 "mark": {"type": "point", "filled": true, "size": 256, "opacity": 1, "strokeWidth": 1},
 "encoding": {
   "fill": {"field": "gas", "type": "nominal", "scale": {"domain": ["Biogas", "Methane"], "range": ["#ED7D31", "#FFC000"]},
            "legend": {"title": null, "orient": "none", "legendX": 403, "legendY": 22, "direction": "horizontal", "padding": 0, "labelFontSize": 16, "labelColor": "#333333", "symbolSize": 85, "labelOffset": 2, "columnPadding": 55, "symbolStrokeWidth": 1}},
   "stroke": {"field": "gas", "type": "nominal", "scale": {"domain": ["Biogas", "Methane"], "range": ["#C55A11", "#C49A00"]},
            "legend": {"title": null, "orient": "none", "legendX": 403, "legendY": 22, "direction": "horizontal", "padding": 0, "labelFontSize": 16, "labelColor": "#333333", "symbolSize": 85, "labelOffset": 2, "columnPadding": 55, "symbolStrokeWidth": 1}},
   "shape": {"field": "gas", "type": "nominal", "scale": {"domain": ["Biogas", "Methane"], "range": ["circle", "diamond"]},
            "legend": {"title": null, "orient": "none", "legendX": 403, "legendY": 22, "direction": "horizontal", "padding": 0, "labelFontSize": 16, "labelColor": "#333333", "symbolSize": 85, "labelOffset": 2, "columnPadding": 55, "symbolStrokeWidth": 1}}
 }},
{"data": {"values": [{"day": 406.4, "m3": 5257, "w": 1}, {"day": 433.2, "m3": 5987, "w": 13}]},
 "mark": {"type": "trail", "color": "#ED7D31", "fill": "#ED7D31"},
 "encoding": {"size": {"field": "w", "type": "quantitative", "scale": null, "legend": null}}},
{"data": {"values": [{"day": 418.3, "m3": 2300, "w": 1}, {"day": 433.2, "m3": 2362, "w": 10}]},
 "mark": {"type": "trail", "color": "#FFC000", "fill": "#FFC000"},
 "encoding": {"size": {"field": "w", "type": "quantitative", "scale": null, "legend": null}}}
]
}
